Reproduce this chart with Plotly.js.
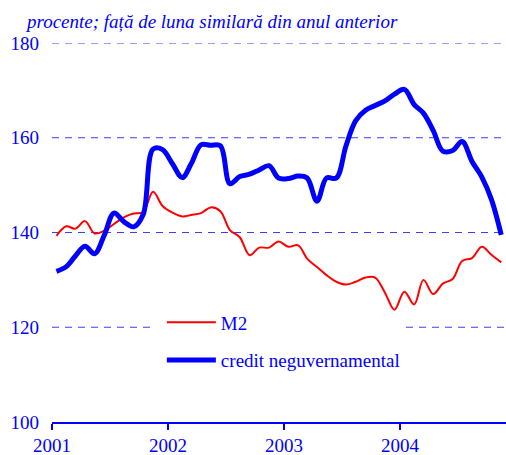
<!DOCTYPE html>
<html>
<head>
<meta charset="utf-8">
<script src="https://cdn.plot.ly/plotly-3.0.1.min.js"></script>
<style>html,body{margin:0;padding:0;background:#fff;}#chart{width:506px;height:455px;}</style>
</head>
<body>
<div id="chart"></div>
<script>
// Monthly data, Jan 2001 - Nov 2004 (percent, vs same month previous year)
var startYear = 2001;
var m2 = [139.3,141.3,140.8,142.4,139.8,140.4,141.8,143.2,144.0,144.3,148.6,145.6,
          144.2,143.4,143.7,144.1,145.3,144.5,140.5,139.0,135.2,136.8,136.8,138.1,
          137.0,137.3,134.5,132.7,131.0,129.6,129.0,129.6,130.5,130.5,127.3,123.7,
          127.5,124.8,130.0,127.0,129.2,130.2,134.0,134.6,137.0,135.3,133.7];
var credit = [131.8,132.8,135.0,137.1,135.5,139.5,144.1,142.3,141.2,143.8,157.6,157.5,
              154.5,151.6,154.5,158.5,158.4,158.3,150.3,151.8,152.3,153.2,154.1,151.5,
              151.4,151.9,151.5,146.6,151.5,151.5,158.2,163.6,165.8,166.8,167.8,169.2,
              170.2,167.0,165.2,161.5,157.2,157.3,159.2,155.0,151.7,147.0,139.5];
var yearTicks = ['2001','2002','2003','2004'];
var yTicks = [100,120,140,160,180];
var seriesNames = ['M2','credit neguvernamental'];
var titleText = 'procente; față de luna similară din anul anterior';

function monthDates(n){
  var out=[];
  for(var i=0;i<n;i++){
    var y=startYear+Math.floor(i/12), m=(i%12)+1;
    out.push(y+'-'+(m<10?'0'+m:m)+'-15');
  }
  return out;
}
var dates = monthDates(m2.length);
var blue = '#0000ff';
var gridCol = '#3c3cff';
var fontFam = 'Liberation Serif, Times New Roman, serif';

var traces = [
  {x:dates, y:m2, name:seriesNames[0], type:'scatter', mode:'lines',
   line:{color:'#ff0000', width:2, shape:'spline', smoothing:1}, legendgroup:'a'},
  {x:dates, y:credit, name:seriesNames[1], type:'scatter', mode:'lines',
   line:{color:'#0000ff', width:5, shape:'spline', smoothing:1}, legendgroup:'b'}
];

// dashed gridlines as shapes; the one behind the legend is interrupted
var legendGapX = [100/454, 354/454];
var shapes = [];
yTicks.slice(1).forEach(function(v){
  var segs = (v === yTicks[1]) ? [[0, legendGapX[0]], [legendGapX[1], 1]] : [[0, 1]];
  segs.forEach(function(s){
    shapes.push({type:'line', layer:'below', xref:'paper', yref:'y',
                 x0:s[0], x1:s[1], y0:v, y1:v,
                 line:{color:gridCol, width:1.2, dash:'7px,6px'}});
  });
});

var layout = {
  width:506, height:455,
  margin:{l:52, r:0, t:43, b:33},
  paper_bgcolor:'#fff', plot_bgcolor:'rgba(0,0,0,0)',
  font:{family:fontFam, color:blue, size:19},
  title:{text:'<i>'+titleText+'</i>', font:{family:fontFam, size:19, color:blue},
         xref:'container', yref:'container', x:27/506, xanchor:'left', y:1-15/455, yanchor:'top'},
  xaxis:{type:'date', range:['2001-01-01','2004-11-30'],
         tickvals:yearTicks.map(function(y){return y+'-01-01';}), ticktext:yearTicks,
         ticks:'outside', ticklen:6, tickcolor:blue, tickwidth:1.5,
         showline:true, linecolor:blue, linewidth:1.5, showgrid:false, zeroline:false,
         tickfont:{family:fontFam, size:19, color:blue}},
  yaxis:{range:[100,180], tickvals:yTicks, showgrid:false, zeroline:false, showline:false, ticks:'',
         ticklabelstandoff:12, tickfont:{family:fontFam, size:19, color:blue}},
  shapes:shapes,
  showlegend:true,
  legend:{x:0.242, y:0.313, xanchor:'left', yanchor:'top', bgcolor:'rgba(0,0,0,0)',
          font:{family:fontFam, size:19, color:blue}, traceorder:'grouped',
          tracegroupgap:10, itemwidth:49}
};

Plotly.newPlot('chart', traces, layout, {displayModeBar:false, staticPlot:true});
</script>
</body>
</html>
